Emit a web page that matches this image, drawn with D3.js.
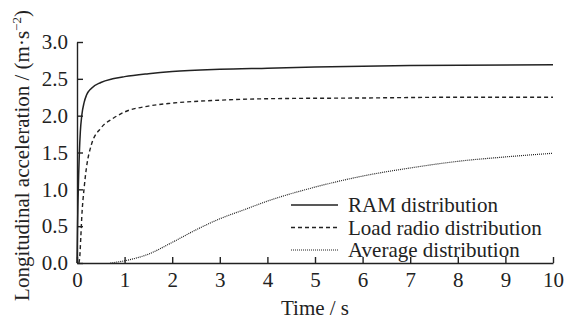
<!DOCTYPE html>
<html>
<head>
<meta charset="utf-8">
<script src="https://cdn.jsdelivr.net/npm/d3@7"></script>
<style>
  body { margin: 0; background: #fff; }
  text { font-family: 'Liberation Serif', 'Times New Roman', serif; fill: #222; }
</style>
</head>
<body>
<div id="chart"></div>
<script>
const ramTime = [0, 0.01, 0.02, 0.035, 0.05, 0.07, 0.1, 0.15, 0.2, 0.3, 0.5, 0.75, 1, 1.5, 2, 3, 4, 5, 7, 10];
const ramValue = [0, 0.45, 0.8, 1.2, 1.5, 1.78, 2.0, 2.18, 2.28, 2.37, 2.45, 2.5, 2.53, 2.57, 2.6, 2.63, 2.645, 2.66, 2.68, 2.69];

const loadTime = [0.04, 0.06, 0.08, 0.1, 0.15, 0.2, 0.3, 0.5, 0.75, 1, 1.5, 2, 3, 4, 6, 8, 10];
const loadValue = [0, 0.1, 0.35, 0.62, 1.02, 1.3, 1.6, 1.83, 1.96, 2.05, 2.13, 2.17, 2.21, 2.23, 2.24, 2.25, 2.25];

const avgTime = [0.7, 1, 1.5, 2, 2.5, 3, 3.5, 4, 5, 6, 7, 8, 9, 10];
const avgValue = [0, 0.03, 0.12, 0.28, 0.45, 0.6, 0.72, 0.84, 1.03, 1.18, 1.29, 1.38, 1.44, 1.49];

const xTicks = [0, 1, 2, 3, 4, 5, 6, 7, 8, 9, 10];
const yTicks = [0, 0.5, 1, 1.5, 2, 2.5, 3];
const seriesNames = ['RAM distribution', 'Load radio distribution', 'Average distribution'];

const WIDTH = 564;
const HEIGHT = 321;
const margin = { left: 77, right: 11, top: 42, bottom: 58 };
const fontSize = '21px';

const svg = d3.create('svg').attr('width', WIDTH).attr('height', HEIGHT);

const x = d3.scaleLinear().domain([0, 10]).range([margin.left, WIDTH - margin.right]);
const y = d3.scaleLinear().domain([0, 3]).range([HEIGHT - margin.bottom, margin.top]);

const xAxis = d3.axisBottom(x).tickValues(xTicks).tickSizeInner(-6).tickSizeOuter(0).tickPadding(9);
const yAxis = d3.axisLeft(y).tickValues(yTicks).tickSizeInner(-6).tickSizeOuter(0).tickPadding(9)
  .tickFormat(d3.format('.1f'));

const gx = svg.append('g').attr('transform', `translate(0, ${y(0)})`).call(xAxis);
const gy = svg.append('g').attr('transform', `translate(${x(0)}, 0)`).call(yAxis);

[gx, gy].forEach((g) => {
  g.selectAll('path, line').attr('stroke', '#222').attr('stroke-width', 1.4);
  g.selectAll('text').style('font-size', fontSize).attr('font-family', null).style('fill', '#222');
});

const line = d3.line().x((d) => x(d[0])).y((d) => y(d[1])).curve(d3.curveMonotoneX);

const series = [
  { t: ramTime, v: ramValue, dash: null, width: 1.5 },
  { t: loadTime, v: loadValue, dash: '4,3', width: 1.4 },
  { t: avgTime, v: avgValue, dash: '1,1', width: 1.2 },
];

series.forEach((s) => {
  svg.append('path')
    .datum(s.t.map((t, i) => [t, s.v[i]]))
    .attr('d', line)
    .attr('fill', 'none')
    .attr('stroke', '#222')
    .attr('stroke-width', s.width)
    .attr('stroke-dasharray', s.dash);
});

const legend = svg.append('g').attr('transform', 'translate(291, 205)');
series.forEach((s, i) => {
  const row = legend.append('g').attr('transform', `translate(0, ${i * 22.5})`);
  row.append('line')
    .attr('x1', 0).attr('x2', 47)
    .attr('stroke', '#222')
    .attr('stroke-width', s.width)
    .attr('stroke-dasharray', s.dash);
  row.append('text')
    .attr('x', 57).attr('y', 7)
    .style('font-size', fontSize)
    .text(seriesNames[i]);
});

svg.append('text')
  .attr('x', (x(0) + x(10)) / 2)
  .attr('y', 315)
  .attr('text-anchor', 'middle')
  .style('font-size', fontSize)
  .text('Time / s');

const yLabel = svg.append('text')
  .attr('transform', `translate(29, ${(y(0) + y(3)) / 2 + 3}) rotate(-90)`)
  .attr('text-anchor', 'middle')
  .style('font-size', fontSize);
yLabel.append('tspan').text('Longitudinal acceleration / (m·s');
yLabel.append('tspan').attr('dy', -8).style('font-size', '13px').text('−2');
yLabel.append('tspan').attr('dy', 8).text(')');

document.getElementById('chart').appendChild(svg.node());
</script>
</body>
</html>
